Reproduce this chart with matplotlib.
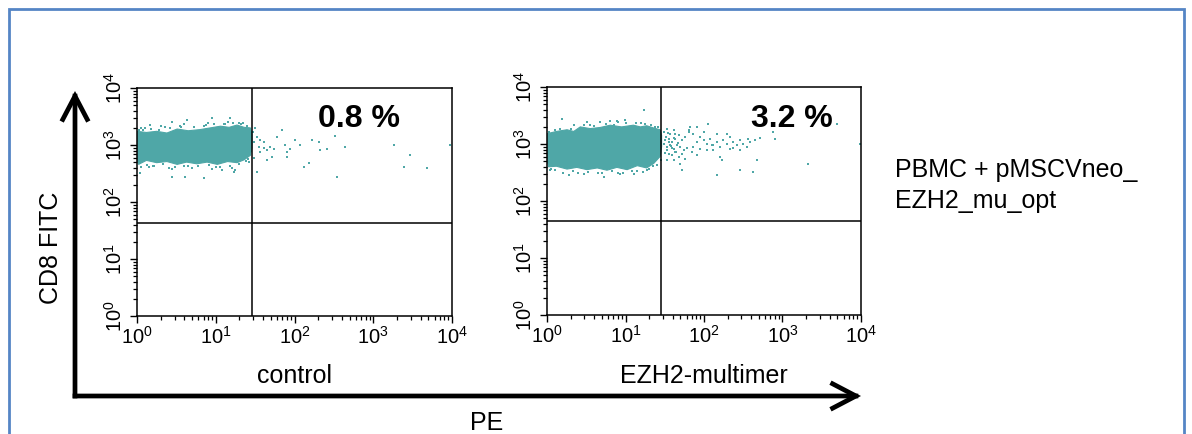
import numpy as np
import matplotlib
matplotlib.use("Agg")
import matplotlib.pyplot as plt
from matplotlib.patches import Rectangle

plt.rcParams['font.family'] = ['Liberation Sans', 'DejaVu Sans']
plt.rcParams['mathtext.fontset'] = 'custom'
plt.rcParams['mathtext.rm'] = 'Liberation Sans'

# ---------------- data (log10 fluorescence) ----------------
panel_names = ["control", "EZH2-multimer"]
percent_labels = ["0.8 %", "3.2 %"]
gate_pe = [29.0, 28.5]
gate_cd8 = [43.0, 44.0]
decades = [0, 1, 2, 3, 4]

# dense population outline (log10 PE, log10 CD8)
core1_pe = [0, 0.12, 0.25, 0.38, 0.51, 0.65, 0.80, 0.93, 1.06, 1.17, 1.27, 1.36, 1.44, 1.46,
            1.46, 1.44, 1.36, 1.27, 1.15, 1.02, 0.89, 0.76, 0.63, 0.51, 0.38, 0.25, 0.12, 0.02, 0]
core1_cd8 = [3.24, 3.22, 3.24, 3.21, 3.28, 3.25, 3.27, 3.30, 3.33, 3.31, 3.35, 3.31, 3.30, 3.18,
             2.95, 2.82, 2.74, 2.69, 2.71, 2.66, 2.70, 2.67, 2.70, 2.66, 2.71, 2.69, 2.73, 2.66, 2.75]
core2_pe = [0, 0.12, 0.255, 0.34, 0.424, 0.55, 0.679, 0.806, 0.95, 1.10, 1.19, 1.27, 1.36, 1.44,
            1.46, 1.46, 1.44, 1.36, 1.27, 1.15, 1.02, 0.89, 0.764, 0.64, 0.509, 0.38, 0.255, 0.12, 0.02, 0]
core2_cd8 = [3.18, 3.22, 3.25, 3.22, 3.30, 3.27, 3.29, 3.33, 3.30, 3.33, 3.30, 3.32, 3.28, 3.25,
             3.15, 2.95, 2.78, 2.66, 2.58, 2.62, 2.55, 2.59, 2.54, 2.58, 2.55, 2.59, 2.56, 2.61, 2.60, 2.72]

# individual events (log10 PE, log10 CD8)
ev1_pe = [1.503, 1.524, 1.545, 1.566, 1.608, 1.651, 1.693, 1.735, 1.714, 1.651, 1.841, 1.884, 1.905,
          1.947, 1.905, 2.011, 2.074, 2.116, 2.18, 2.222, 2.307, 2.328, 2.413, 2.519, 2.54, 2.646,
          3.259, 3.386, 3.471, 3.683, 3.979, 1.524, 1.778, 1.481, 1.566, 1.608,
          0.444, 0.635, 0.952, 1.185, 0.444, 0.614, 0.847, 0.169, 0.042, 1.079, 1.227,
          0.1, 0.35, 0.6, 0.9, 1.15, 1.35, 0.15, 0.4, 0.7, 0.95, 1.2, 1.38, 0.05, 0.3, 0.55,
          0.85, 1.1, 1.3, 0.2, 0.45, 0.65, 1.0, 1.25, 1.42,
          0.02, 0.08, 0.18, 0.28, 0.42, 0.56, 0.72, 0.88, 0.98, 1.12, 1.22, 1.32, 1.40,
          0.05, 0.13, 0.22, 0.33, 0.48, 0.6, 0.78, 0.92, 1.05, 1.18, 1.3, 1.41, 1.45, 1.48, 1.47]
ev1_cd8 = [3.29, 3.146, 2.97, 2.883, 2.94, 2.912, 2.959, 2.924, 2.795, 2.737, 3.263, 3.0, 2.883,
           2.924, 2.795, 3.088, 3.0, 2.62, 2.678, 3.088, 3.058, 2.912, 2.924, 3.158, 2.444, 2.959,
           3.0, 2.62, 2.825, 2.591, 3.0, 2.532, 3.146, 2.766, 3.088, 3.058,
           3.41, 3.44, 3.468, 3.468, 2.444, 2.444, 2.415, 3.35, 2.503, 2.56, 2.53,
           3.30, 3.31, 3.36, 3.38, 3.40, 3.38, 2.62, 2.60, 2.60, 2.58, 2.60, 2.72, 3.29, 3.33,
           3.34, 3.33, 3.37, 3.39, 2.64, 2.58, 2.63, 2.61, 2.57, 2.70,
           3.27, 3.26, 3.28, 3.27, 3.30, 3.31, 3.32, 3.35, 3.36, 3.37, 3.38, 3.36, 3.34,
           2.62, 2.65, 2.63, 2.66, 2.62, 2.64, 2.63, 2.65, 2.62, 2.64, 2.66, 2.76, 2.90, 3.05, 3.22]

ev2_pe = [1.485, 1.527, 1.569, 1.612, 1.506, 1.548, 1.591, 1.633, 1.676, 1.718, 1.760, 1.803, 1.824,
          1.527, 1.569, 1.612, 1.654, 1.697, 1.739, 1.782, 1.548, 1.591, 1.633, 1.676, 1.718, 1.760,
          1.612, 1.527, 1.697, 1.718, 1.803, 1.866, 1.909, 1.951, 1.994, 2.036, 2.078, 2.121, 2.163,
          2.206, 2.248, 2.291, 2.333, 2.375, 2.418, 2.460, 2.503, 2.545, 2.587, 2.651, 2.715, 1.951,
          2.036, 2.121, 2.206, 2.291, 2.057, 1.909, 1.994, 2.163, 2.375, 2.460, 2.672, 2.630, 2.460,
          2.163, 2.227, 1.845, 1.909, 2.906, 2.884, 3.330, 3.690, 3.987, 1.866, 2.100, 2.333, 2.566,
          0.191, 0.509, 0.679, 0.806, 0.891, 0.997, 1.230, 0.042, 0.276, 0.467, 0.721, 0.933, 1.103,
          1.273, 0.1, 0.35, 0.55, 0.9, 1.2, 1.38, 0.1, 0.4, 0.65, 0.9, 1.15, 1.35,
          1.49, 1.51, 1.53, 1.56, 1.58, 1.62, 1.64, 1.67, 1.50, 1.54, 1.59, 1.63,
          0.03, 0.17, 0.3, 0.47, 0.6, 0.75, 0.85, 1.0, 1.13, 1.25, 1.33, 1.42,
          0.05, 0.2, 0.33, 0.52, 0.7, 0.83, 0.97, 1.08, 1.22, 1.3, 1.4, 1.45]
ev2_cd8 = [3.212, 3.270, 3.182, 3.241, 3.066, 3.095, 3.036, 3.095, 3.153, 3.066, 3.124, 3.212, 3.299,
           2.949, 2.978, 2.920, 2.978, 2.949, 2.891, 2.937, 2.832, 2.803, 2.861, 2.774, 2.832, 2.745,
           2.715, 2.715, 2.657, 2.540, 3.241, 3.182, 3.036, 3.124, 3.066, 3.007, 3.095, 2.978, 3.036,
           2.949, 3.066, 3.007, 3.124, 3.036, 2.978, 3.066, 3.007, 2.949, 3.036, 3.066, 3.112, 2.920,
           2.891, 2.891, 2.774, 3.171, 3.358, 3.299, 3.212, 3.171, 2.937, 2.891, 2.715, 2.511, 2.540,
           2.453, 2.715, 2.861, 2.803, 3.095, 3.212, 2.657, 3.358, 3.007, 2.949, 2.978, 2.920, 3.095,
           3.445, 3.387, 3.387, 3.404, 3.399, 3.416, 3.591, 2.540, 2.453, 2.482, 2.423, 2.482, 2.482,
           2.540, 3.24, 3.34, 3.33, 3.38, 3.37, 3.30, 2.55, 2.50, 2.49, 2.50, 2.52, 2.62,
           3.00, 3.12, 2.90, 3.04, 2.96, 3.10, 2.86, 3.01, 2.85, 3.20, 2.93, 3.17,
           3.21, 3.27, 3.26, 3.33, 3.31, 3.35, 3.33, 3.37, 3.36, 3.35, 3.33, 3.29,
           2.56, 2.50, 2.53, 2.51, 2.49, 2.52, 2.50, 2.53, 2.51, 2.56, 2.64, 2.72]

# ---------------- figure ----------------
W, H = 1192, 434
fig = plt.figure(figsize=(W / 100, H / 100), dpi=100)

teal = '#4FA7A7'
axes_px = [(137, 88, 452, 316), (547, 87, 861, 315)]
cores = [(core1_pe, core1_cd8), (core2_pe, core2_cd8)]
events = [(ev1_pe, ev1_cd8), (ev2_pe, ev2_cd8)]

for i, (l, t, r, b) in enumerate(axes_px):
    ax = fig.add_axes([l / W, 1 - b / H, (r - l) / W, (b - t) / H])
    ax.set_xscale('log')
    ax.set_yscale('log')
    ax.set_xlim(1, 1e4)
    ax.set_ylim(1, 1e4)
    cx = 10 ** np.array(cores[i][0])
    cy = 10 ** np.array(cores[i][1])
    ax.fill(cx, cy, color=teal, lw=0.8, ec=teal, zorder=2)
    ex = 10 ** np.array(events[i][0])
    ey = 10 ** np.array(events[i][1])
    ax.scatter(ex, ey, s=3.5, marker='s', color=teal, linewidths=0, zorder=2)
    ax.axvline(gate_pe[i], color='black', lw=1.1, zorder=3)
    ax.axhline(gate_cd8[i], color='black', lw=1.1, zorder=3)
    ticks = [10.0 ** d for d in decades]
    labels = [r'$\mathregular{10^{%d}}$' % d for d in decades]
    ax.set_xticks(ticks)
    ax.set_xticklabels(labels)
    ax.set_yticks(ticks)
    ax.set_yticklabels(labels, rotation=90, va='center')
    ax.xaxis.set_minor_locator(matplotlib.ticker.LogLocator(base=10, subs=np.arange(2, 10)))
    ax.yaxis.set_minor_locator(matplotlib.ticker.LogLocator(base=10, subs=np.arange(2, 10)))
    ax.xaxis.set_minor_formatter(matplotlib.ticker.NullFormatter())
    ax.yaxis.set_minor_formatter(matplotlib.ticker.NullFormatter())
    ax.tick_params(which='major', direction='out', length=5, width=1, labelsize=14.5, pad=2)
    ax.tick_params(axis='y', which='major', pad=3)
    ax.tick_params(which='minor', direction='out', length=3, width=0.9)
    for sp in ax.spines.values():
        sp.set_linewidth(1.1)

# percentages
fig.text(359 / W, 1 - 119 / H, percent_labels[0], fontsize=23, fontweight='bold',
         ha='center', va='center')
fig.text(792 / W, 1 - 119 / H, percent_labels[1], fontsize=23, fontweight='bold',
         ha='center', va='center')

# panel names
fig.text(294 / W, 1 - 383 / H, panel_names[0], fontsize=18, ha='center', va='baseline')
fig.text(704 / W, 1 - 383 / H, panel_names[1], fontsize=18, ha='center', va='baseline')

# axis titles
fig.text(487 / W, 1 - 430 / H, "PE", fontsize=18, ha='center', va='baseline')
fig.text(51 / W, 1 - 248 / H, "CD8 FITC", fontsize=18, rotation=90, ha='center', va='center')

# sample description
fig.text(895 / W, 1 - 177 / H, "PBMC + pMSCVneo_", fontsize=18, ha='left', va='baseline')
fig.text(895 / W, 1 - 208 / H, "EZH2_mu_opt", fontsize=18, ha='left', va='baseline')

# big arrows
ox, oy = 75, H - 396
arrow_kw = dict(arrowstyle='->,head_length=0.42,head_width=0.22', lw=3.4,
                color='black', mutation_scale=40, shrinkA=0, shrinkB=0,
                capstyle='projecting', joinstyle='miter')
fig.add_artist(matplotlib.patches.FancyArrowPatch((ox, oy), (ox, H - 91),
               transform=None, **arrow_kw))
fig.add_artist(matplotlib.patches.FancyArrowPatch((ox, oy), (861, oy),
               transform=None, **arrow_kw))

# blue frame
fig.add_artist(Rectangle((9, -10), 1175, H - 9 + 10, transform=None, fill=False,
                         ec='#5585C5', lw=2.0))

fig.savefig('out.png', dpi=100)
